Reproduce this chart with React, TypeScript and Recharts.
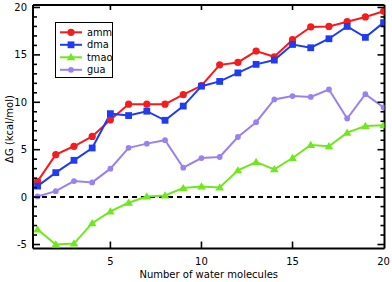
import React from 'react';
import { LineChart, Line, XAxis, YAxis, ReferenceLine } from 'recharts';

const waterCounts = [1, 2, 3, 4, 5, 6, 7, 8, 9, 10, 11, 12, 13, 14, 15, 16, 17, 18, 19, 20];
const amm = [1.66, 4.48, 5.36, 6.4, 8.15, 9.8, 9.8, 9.8, 10.8, 11.75, 13.95, 14.2, 15.4, 14.8, 16.6, 17.95, 18.0, 18.5, 19.0, 19.6];
const dma = [1.16, 2.58, 3.88, 5.18, 8.8, 8.6, 9.06, 8.1, 9.6, 11.7, 12.2, 13.1, 14.0, 14.45, 16.1, 15.75, 16.7, 18.0, 16.85, 18.4];
const tmao = [-3.41, -5.0, -4.9, -2.75, -1.51, -0.6, 0.07, 0.18, 0.95, 1.13, 1.02, 2.82, 3.7, 2.93, 4.12, 5.5, 5.36, 6.8, 7.5, 7.58];
const gua = [0.07, 0.63, 1.69, 1.55, 3.0, 5.2, 5.64, 6.0, 3.1, 4.12, 4.23, 6.34, 7.9, 10.3, 10.65, 10.57, 11.35, 8.29, 10.86, 9.45];

const xTicks = [5, 10, 15, 20];
const yTicks = [-5, -4, -3, -2, -1, 0, 1, 2, 3, 4, 5, 6, 7, 8, 9, 10, 11, 12, 13, 14, 15, 16, 17, 18, 19, 20];

const seriesNames = ['amm', 'dma', 'tmao', 'gua'];
const seriesColors = ['#f41c1c', '#1f3cf2', '#6fe81c', '#9a82ee'];
const seriesShapes = ['circle', 'square', 'triangle', 'smallcircle'];

const data = waterCounts.map((n, i) => ({ n, amm: amm[i], dma: dma[i], tmao: tmao[i], gua: gua[i] }));

const FONT = '"DejaVu Sans", sans-serif';
const TM = 4;
const TICK_COLOR = '#000';

function Marker({ shape, cx, cy, color }: any) {
  if (cx == null || cy == null) return null;
  if (shape === 'circle') return <circle cx={cx} cy={cy} r={3.6} fill={color} stroke="none" />;
  if (shape === 'smallcircle') return <circle cx={cx} cy={cy} r={2.9} fill={color} stroke="none" />;
  if (shape === 'square') return <rect x={cx - 3.4} y={cy - 3.4} width={6.8} height={6.8} fill={color} stroke="none" />;
  return <polygon points={`${cx},${cy - 4.2} ${cx + 4.3},${cy + 3} ${cx - 4.3},${cy + 3}`} fill={color} stroke="none" />;
}

const LeftTick = (props: any) => {
  const x = Number(props.x);
  const y = Number(props.y);
  const v = props.payload.value;
  const major = v % 5 === 0;
  const ax = x + TM;
  return (
    <g>
      <line x1={ax} x2={ax + (major ? 7 : 4)} y1={y} y2={y} stroke={TICK_COLOR} strokeWidth={1.6} />
      {major && (
        <text x={x - 2} y={y + 3.6} textAnchor="end" fontSize={10} fontFamily={FONT} fill="#000">{v}</text>
      )}
    </g>
  );
};

const RightTick = (props: any) => {
  const x = Number(props.x);
  const y = Number(props.y);
  const v = props.payload.value;
  const major = v % 5 === 0;
  const ax = x - TM;
  return (
    <g>
      <line x1={ax} x2={ax - (major ? 7 : 4)} y1={y} y2={y} stroke={TICK_COLOR} strokeWidth={1.6} />
    </g>
  );
};

const BottomTick = (props: any) => {
  const x = Number(props.x);
  const y = Number(props.y);
  const v = props.payload.value;
  const ay = y - TM;
  return (
    <g>
      {v < 20 && <line x1={x} x2={x} y1={ay} y2={ay - 7} stroke={TICK_COLOR} strokeWidth={1.6} />}
      <text x={x} y={y + 12.5} textAnchor="middle" fontSize={10} fontFamily={FONT} fill="#000">{v}</text>
    </g>
  );
};

const TopTick = (props: any) => {
  const x = Number(props.x);
  const y = Number(props.y);
  const v = props.payload.value;
  const ay = y + TM;
  return (
    <g>
      {v < 20 && <line x1={x} x2={x} y1={ay} y2={ay + 5} stroke={TICK_COLOR} strokeWidth={1.6} />}
    </g>
  );
};

const YLabel = () => {
  const cy = 129;
  return (
    <text x={13} y={cy} transform={`rotate(-90, 13, ${cy})`} textAnchor="middle" fontSize={10} fontFamily={FONT} fill="#000">
      ΔG (kcal/mol)
    </text>
  );
};

const XLabel = (props: any) => {
  const vb = props.viewBox || {};
  const cx = (vb.x ?? 33) + (vb.width ?? 351) / 2;
  return (
    <text x={cx} y={278} textAnchor="middle" fontSize={10} fontFamily={FONT} fill="#000">
      Number of water molecules
    </text>
  );
};

function LegendBox() {
  return (
    <div style={{ position: 'absolute', left: 55, top: 22, width: 58, height: 56, border: '1px solid #000', background: '#fff', boxSizing: 'border-box' }}>
      <svg width={58} height={56} style={{ position: 'absolute', left: -1, top: -1, overflow: 'visible' }}>
        {seriesNames.map((name, i) => {
          const cy = 10.3 + i * 12.5;
          return (
            <g key={name}>
              <line x1={5} x2={27} y1={cy} y2={cy} stroke={seriesColors[i]} strokeWidth={2} />
              <Marker shape={seriesShapes[i]} cx={16} cy={cy} color={seriesColors[i]} />
              <text x={32} y={cy + 3.5} fontSize={9.8} fontFamily={FONT} fill="#000">{name}</text>
            </g>
          );
        })}
      </svg>
    </div>
  );
}

export default function App() {
  return (
    <div style={{ position: 'absolute', left: 0, top: 0, width: 392, height: 282, background: '#fff' }}>
      <LineChart width={392} height={282} data={data} margin={{ top: 4, right: 6.5, bottom: 0, left: 0 }}>
        <XAxis
          xAxisId="b"
          dataKey="n"
          type="number"
          domain={[0.75, 20.05]}
          ticks={xTicks}
          interval={0}
          orientation="bottom"
          height={33.5}
          tickSize={0}
          tickMargin={TM}
          tickLine={false}
          axisLine={{ stroke: '#000', strokeWidth: 2 }}
          tick={BottomTick}
          allowDataOverflow
          label={<XLabel />}
        />
        <XAxis
          xAxisId="t"
          dataKey="n"
          type="number"
          domain={[0.75, 20.05]}
          ticks={xTicks}
          interval={0}
          orientation="top"
          height={1}
          tickSize={0}
          tickMargin={TM}
          tickLine={false}
          axisLine={{ stroke: '#000', strokeWidth: 2 }}
          tick={TopTick}
          allowDataOverflow
        />
        <YAxis
          yAxisId="l"
          type="number"
          domain={[-5.42, 20.26]}
          ticks={yTicks}
          interval={0}
          orientation="left"
          width={33}
          tickSize={0}
          tickMargin={TM}
          tickLine={false}
          axisLine={{ stroke: '#000', strokeWidth: 2 }}
          tick={LeftTick}
          allowDataOverflow
          label={<YLabel />}
        />
        <YAxis
          yAxisId="r"
          type="number"
          domain={[-5.42, 20.26]}
          ticks={yTicks}
          interval={0}
          orientation="right"
          width={1}
          tickSize={0}
          tickMargin={TM}
          tickLine={false}
          axisLine={{ stroke: '#000', strokeWidth: 2 }}
          tick={RightTick}
          allowDataOverflow
        />
        <ReferenceLine xAxisId="b" yAxisId="l" y={0} stroke="#000" strokeWidth={2} strokeDasharray="5 4" />
        {seriesNames.map((name, i) => (
          <Line
            key={name}
            xAxisId="b"
            yAxisId="l"
            dataKey={name}
            type="linear"
            stroke={seriesColors[i]}
            strokeWidth={2}
            isAnimationActive={false}
            dot={(p: any) => <Marker key={`${name}-${p.index}`} shape={seriesShapes[i]} cx={p.cx} cy={p.cy} color={seriesColors[i]} />}
            activeDot={false}
          />
        ))}
      </LineChart>
      <LegendBox />
    </div>
  );
}
